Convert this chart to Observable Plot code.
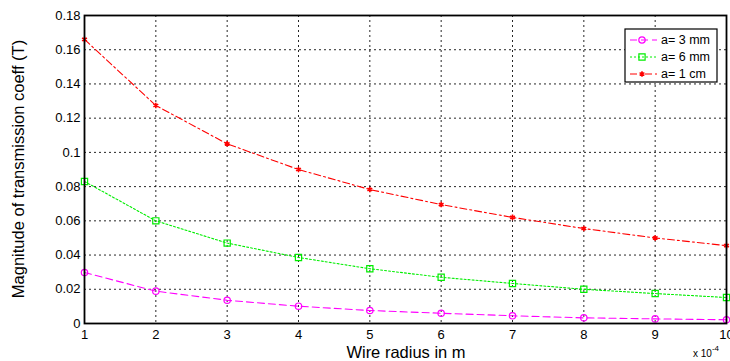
<!DOCTYPE html>
<html><head><meta charset="utf-8">
<script src="https://cdn.jsdelivr.net/npm/d3@7"></script>
<script src="https://cdn.jsdelivr.net/npm/@observablehq/plot@0.6"></script>
<style>body{margin:0;background:#fff;font-family:"Liberation Sans",Arial,sans-serif}</style>
</head><body><div id="chart"></div>
<script>
const radius = [1,2,3,4,5,6,7,8,9,10]; // x 10^-4 m
const a3mm = [0.0298,0.0189,0.0136,0.0101,0.0076,0.0060,0.0045,0.0033,0.0027,0.0022];
const a6mm = [0.083,0.060,0.047,0.0386,0.032,0.027,0.0234,0.020,0.0175,0.0152];
const a1cm = [0.166,0.1274,0.105,0.090,0.0783,0.0695,0.062,0.0555,0.050,0.0455];
const seriesNames = ["a= 3 mm","a= 6 mm","a= 1 cm"];
const xTicks = [1,2,3,4,5,6,7,8,9,10];
const yTicks = [0,0.02,0.04,0.06,0.08,0.1,0.12,0.14,0.16,0.18];

const styles = [
  {color:"#ff00ff", dash:"7,4", symbol:"circle", r:3.2, sw:1.2},
  {color:"#00ee00", dash:"2,2", symbol:"square", r:3.5, sw:1.2},
  {color:"#ff0000", dash:"7,3,2,3", symbol:"asterisk", r:2.6, sw:1.6}
];
const seriesVals = [a3mm,a6mm,a1cm];
const data = [];
seriesVals.forEach((vals,i)=>vals.forEach((v,j)=>data.push({x:radius[j], y:v, s:seriesNames[i], i})));

const FONT = "'Liberation Sans', Arial, sans-serif";
const marks = [
  Plot.gridX(xTicks,{stroke:"#000", strokeOpacity:0.85, strokeDasharray:"2,3", strokeWidth:1}),
  Plot.gridY(yTicks,{stroke:"#000", strokeOpacity:0.85, strokeDasharray:"2,3", strokeWidth:1}),
  Plot.axisX({ticks:xTicks, tickSize:0, tickPadding:6, fontSize:13, label:null, tickFormat:d=>String(d)}),
  Plot.axisY({ticks:yTicks, tickSize:0, tickPadding:4, fontSize:13, label:null, tickFormat:d=>d===0?"0":String(+d.toFixed(2))})
];
seriesVals.forEach((vals,i)=>{
  const d = data.filter(e=>e.i===i);
  marks.push(Plot.line(d,{x:"x",y:"y",stroke:styles[i].color,strokeWidth:1.1,strokeDasharray:styles[i].dash}));
  marks.push(Plot.dot(d,{x:"x",y:"y",stroke:styles[i].color,symbol:styles[i].symbol,r:styles[i].r,strokeWidth:styles[i].sw,fill:"none"}));
});
marks.push(Plot.frame({stroke:"#000", strokeWidth:1.8}));

const chart = Plot.plot({
  width:730, height:361,
  marginLeft:84, marginRight:4, marginTop:15, marginBottom:38,
  x:{domain:[1,10]},
  y:{domain:[0,0.18]},
  style:{fontFamily:FONT, color:"#000", background:"#fff"},
  marks
});
document.getElementById("chart").appendChild(chart);

const svg = d3.select(chart);
svg.append("text").attr("x",406).attr("y",358).attr("text-anchor","middle")
  .attr("font-size",16.5).attr("fill","#000").text("Wire radius in m");
svg.append("text").attr("transform","translate(24,169) rotate(-90)").attr("text-anchor","middle")
  .attr("font-size",16.5).attr("fill","#000").text("Magnitude of transmission coeff (T)");
const t = svg.append("text").attr("x",693).attr("y",357).attr("text-anchor","start").attr("font-size",10).attr("fill","#000");
t.append("tspan").text("x 10");
t.append("tspan").attr("dy",-6).attr("font-size",8).text("-4");

// legend
const lg = svg.append("g").attr("transform","translate(625,29)");
lg.append("rect").attr("width",92).attr("height",53).attr("fill","#fff").attr("stroke","#000").attr("stroke-width",1.2);
const sym = {circle:d3.symbolCircle, square:d3.symbolSquare, asterisk:d3.symbolAsterisk};
seriesNames.forEach((n,i)=>{
  const y = 11 + i*17;
  lg.append("line").attr("x1",5).attr("x2",32).attr("y1",y).attr("y2",y)
    .attr("stroke",styles[i].color).attr("stroke-dasharray",styles[i].dash);
  lg.append("path").attr("transform",`translate(17,${y})`)
    .attr("d",d3.symbol(sym[styles[i].symbol], Math.PI*styles[i].r*styles[i].r)())
    .attr("fill","none").attr("stroke",styles[i].color).attr("stroke-width",styles[i].sw);
  lg.append("text").attr("x",36).attr("y",y+4).attr("text-anchor","start").attr("font-size",12.5).attr("fill","#000").text(n);
});
</script></body></html>
